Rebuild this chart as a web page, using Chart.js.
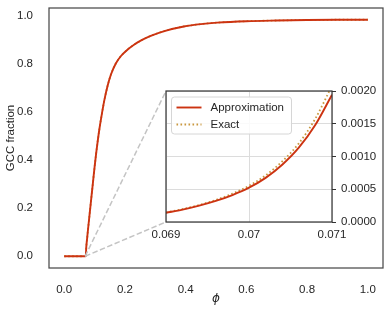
<!DOCTYPE html>
<html>
<head>
<meta charset="utf-8">
<script src="https://cdn.jsdelivr.net/npm/chart.js@4/dist/chart.umd.min.js"></script>
<style>
  html, body { margin: 0; padding: 0; background: #fff; }
  #wrap { position: relative; width: 391px; height: 314px; }
  #mainChart { position: absolute; left: 0; top: 0; }
  #insetChart { position: absolute; left: 150px; top: 84px; }
</style>
</head>
<body>
<div id="wrap">
  <canvas id="mainChart" width="391" height="314"></canvas>
  <canvas id="insetChart" width="241" height="171"></canvas>
</div>
<script>
// main panel: GCC fraction vs phi (approximation and exact overlap at this scale)
const phiMain = [0, 0.06, 0.069, 0.071, 0.073, 0.076, 0.08, 0.085, 0.09, 0.095, 0.1, 0.105, 0.11, 0.116,
    0.124, 0.132, 0.143, 0.154, 0.17, 0.187, 0.21, 0.23, 0.255, 0.285, 0.33, 0.394, 0.45, 0.504,
    0.6, 0.7, 0.8, 0.9, 1.0];
const gccApprox = [0, 0, 0.0001, 0.002, 0.042, 0.08, 0.13, 0.19, 0.25, 0.31, 0.37, 0.425, 0.475, 0.53,
    0.592, 0.648, 0.71, 0.757, 0.803, 0.834, 0.862, 0.881, 0.9, 0.918, 0.938, 0.957, 0.967, 0.973,
    0.979, 0.982, 0.984, 0.985, 0.985];
const gccExact = [0, 0, 0.0001, 0.002, 0.042, 0.08, 0.13, 0.19, 0.25, 0.31, 0.37, 0.425, 0.475, 0.53,
    0.592, 0.648, 0.71, 0.757, 0.803, 0.834, 0.862, 0.881, 0.9, 0.918, 0.938, 0.957, 0.967, 0.973,
    0.979, 0.982, 0.984, 0.985, 0.985];

// inset panel: zoom near the threshold
const phiInset = [0.069, 0.0692, 0.0694, 0.0696, 0.0698, 0.07, 0.0702, 0.0704, 0.0706, 0.0708, 0.071];
const insetApprox = [0.00014, 0.00019, 0.00025, 0.000322, 0.000412, 0.000524, 0.000674, 0.000874, 0.001134, 0.001484, 0.001944];
const insetExact = [0.000145, 0.000197, 0.00026, 0.000337, 0.000433, 0.000553, 0.000712, 0.000925, 0.0012, 0.00158, 0.00208];

const mainXTicks = [0, 0.2, 0.4, 0.6, 0.8, 1.0];
const mainYTicks = [0, 0.2, 0.4, 0.6, 0.8, 1.0];
const insetXTicks = [0.069, 0.07, 0.071];
const insetXLabels = ['0.069', '0.07', '0.071'];
const insetYTicks = [0, 0.0005, 0.001, 0.0015, 0.002];

const labels = ['Approximation', 'Exact'];
const approxColor = '#cc3311';
const exactColor = '#c9983e';
const textColor = '#262626';
const fontFamily = "'Liberation Sans', Arial, sans-serif";

Chart.defaults.font.family = fontFamily;
Chart.defaults.font.size = 11.5;
Chart.defaults.color = textColor;

const toPoints = (xs, ys) => xs.map((x, i) => ({ x: x, y: ys[i] }));

function lineSet(label, xs, ys, color, dotted) {
    return {
        label: label,
        data: toPoints(xs, ys),
        borderColor: color,
        borderWidth: dotted ? 1.8 : 1.9,
        borderDash: dotted ? [1.6, 2.4] : [],
        pointRadius: 0,
        cubicInterpolationMode: 'monotone',
        fill: false
    };
}

// pin axis sizes and drop the label overhang padding so the plot boxes land where they should
function fixX(h) {
    return (s) => { s.height = h; s.paddingLeft = 0; s.paddingRight = 0; };
}
function fixY(w) {
    return (s) => { s.width = w; s.paddingTop = 0; s.paddingBottom = 0; };
}

const framePlugin = {
    id: 'frame',
    afterDraw(chart, args, opts) {
        const a = chart.chartArea;
        const ctx = chart.ctx;
        ctx.save();
        ctx.strokeStyle = opts.color;
        ctx.lineWidth = opts.width;
        ctx.strokeRect(a.left, a.top, a.right - a.left, a.bottom - a.top);
        ctx.restore();
    }
};

const whiteBgPlugin = {
    id: 'whiteBg',
    beforeDraw(chart) {
        const a = chart.chartArea;
        chart.ctx.save();
        chart.ctx.fillStyle = '#fff';
        chart.ctx.fillRect(a.left, a.top, a.right - a.left, a.bottom - a.top);
        chart.ctx.restore();
    }
};

const insetLegendPlugin = {
    id: 'insetLegend',
    afterDraw(chart) {
        const a = chart.chartArea;
        const ctx = chart.ctx;
        const x = a.left + 5.5, y = a.top + 6, w = 120, h = 37, r = 3;
        ctx.save();
        ctx.fillStyle = 'rgba(255,255,255,0.85)';
        ctx.strokeStyle = '#d6d6d6';
        ctx.lineWidth = 1;
        ctx.beginPath();
        ctx.roundRect(x, y, w, h, r);
        ctx.fill();
        ctx.stroke();
        chart.data.datasets.forEach((ds, i) => {
            const rowY = y + 10.5 + i * 17;
            ctx.strokeStyle = ds.borderColor;
            ctx.lineWidth = ds.borderWidth;
            ctx.setLineDash(ds.borderDash);
            ctx.beginPath();
            ctx.moveTo(x + 5, rowY);
            ctx.lineTo(x + 30, rowY);
            ctx.stroke();
            ctx.setLineDash([]);
            ctx.fillStyle = textColor;
            ctx.font = '11.5px ' + fontFamily;
            ctx.textBaseline = 'middle';
            ctx.fillText(ds.label, x + 39, rowY + 0.5);
        });
        ctx.restore();
    }
};

const insetChart = new Chart(document.getElementById('insetChart'), {
    type: 'line',
    data: {
        datasets: [
            lineSet(labels[0], phiInset, insetApprox, approxColor, false),
            lineSet(labels[1], phiInset, insetExact, exactColor, true)
        ]
    },
    options: {
        responsive: false,
        animation: false,
        layout: { padding: { left: 16, top: 7, right: 0, bottom: 0 } },
        plugins: {
            legend: { display: false },
            tooltip: { enabled: false },
            frame: { color: '#333', width: 1.2 }
        },
        scales: {
            x: {
                type: 'linear',
                min: 0.069,
                max: 0.071,
                afterBuildTicks: (s) => { s.ticks = insetXTicks.map(v => ({ value: v })); },
                afterFit: fixX(33),
                ticks: {
                    padding: 6,
                    maxRotation: 0,
                    callback: (v, i) => insetXLabels[i]
                },
                grid: { color: '#dcdcdc', lineWidth: 1, drawTicks: false },
                border: { display: false }
            },
            y: {
                position: 'right',
                min: 0,
                max: 0.002,
                afterBuildTicks: (s) => { s.ticks = insetYTicks.map(v => ({ value: v })); },
                afterFit: fixY(59),
                ticks: {
                    padding: 5,
                    callback: (v) => Number(v).toFixed(4)
                },
                grid: { color: '#dcdcdc', lineWidth: 1, tickColor: '#333', tickLength: 4 },
                border: { display: false }
            }
        }
    },
    plugins: [whiteBgPlugin, framePlugin, insetLegendPlugin]
});

// dashed connectors from the zoomed spot to the inset's left corners
const connectorPlugin = {
    id: 'connector',
    afterDatasetsDraw(chart) {
        const xs = chart.scales.x, ys = chart.scales.y;
        const cv = document.getElementById('insetChart');
        const ia = insetChart.chartArea;
        const sx = xs.getPixelForValue(phiInset[0]);
        const sy = ys.getPixelForValue(0);
        const ex = cv.offsetLeft + ia.left;
        const ctx = chart.ctx;
        ctx.save();
        ctx.strokeStyle = '#c4c4c4';
        ctx.lineWidth = 1.5;
        ctx.setLineDash([5.5, 2.5]);
        [cv.offsetTop + ia.top, cv.offsetTop + ia.bottom].forEach((ey) => {
            ctx.beginPath();
            ctx.moveTo(sx, sy);
            ctx.lineTo(ex, ey);
            ctx.stroke();
        });
        ctx.restore();
    }
};

new Chart(document.getElementById('mainChart'), {
    type: 'line',
    data: {
        datasets: [
            lineSet(labels[0], phiMain, gccApprox, approxColor, false),
            lineSet(labels[1], phiMain, gccExact, exactColor, true)
        ]
    },
    options: {
        responsive: false,
        animation: false,
        layout: { padding: { left: 0, top: 8, right: 8, bottom: 0 } },
        plugins: {
            legend: { display: false },
            tooltip: { enabled: false },
            frame: { color: '#4a4a4a', width: 1.25 }
        },
        scales: {
            x: {
                type: 'linear',
                min: -0.05,
                max: 1.05,
                afterBuildTicks: (s) => { s.ticks = mainXTicks.map(v => ({ value: v })); },
                afterFit: fixX(46),
                ticks: { padding: 7, maxRotation: 0, callback: (v) => Number(v).toFixed(1) },
                grid: { display: false },
                border: { display: false },
                title: {
                    display: true,
                    text: 'ϕ',
                    font: { size: 12, style: 'italic', family: "'DejaVu Sans', sans-serif" },
                    padding: { top: 0, bottom: 8 }
                }
            },
            y: {
                min: -0.049,
                max: 1.034,
                afterBuildTicks: (s) => { s.ticks = mainYTicks.map(v => ({ value: v })); },
                afterFit: fixY(49),
                ticks: { padding: 8, callback: (v) => Number(v).toFixed(1) },
                grid: { display: false },
                border: { display: false },
                title: {
                    display: true,
                    text: 'GCC fraction',
                    font: { size: 11.5 },
                    padding: { top: 4, bottom: 4 }
                }
            }
        }
    },
    plugins: [framePlugin, connectorPlugin]
});
</script>
</body>
</html>
